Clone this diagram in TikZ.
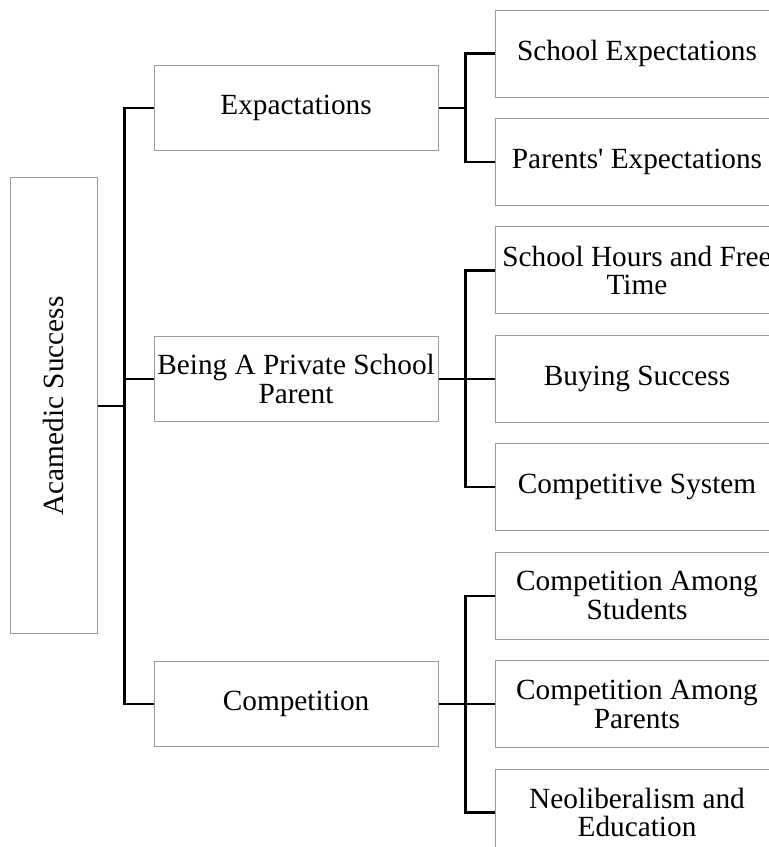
\documentclass[tikz,border=0pt]{standalone}
\usepackage{fontspec}
\setmainfont{Liberation Serif}
\usetikzlibrary{positioning,calc}
\definecolor{boxgray}{HTML}{9A9A9A}

\begin{document}
\begin{tikzpicture}[
    every node/.style={font=\fontsize{25}{24.5}\selectfont},
    rootbox/.style={
        draw=boxgray, line width=0.8pt,
        minimum width=2.61cm, minimum height=13.68cm, inner sep=0pt
    },
    themebox/.style={
        draw=boxgray, line width=0.8pt, align=center,
        minimum width=8.52cm, minimum height=2.55cm, inner xsep=0pt
    },
    leafbox/.style={
        draw=boxgray, line width=0.8pt, align=center,
        minimum width=8.52cm, minimum height=2.61cm, inner xsep=0pt
    },
    link/.style={line width=2pt, color=black},
]
\useasboundingbox (0,0) rectangle (23.04,-25.41);

% === Right column: sub-themes ===
\node[leafbox] (schoolexp) at (19.11,-1.605) {School Expectations};
\node[leafbox, below=0.615cm of schoolexp] (parentexp) {Parents\textquotesingle{} Expectations};
\node[leafbox, below=0.615cm of parentexp] (hours) {School Hours and Free\\Time};
\node[leafbox, below=0.615cm of hours] (buying) {Buying Success};
\node[leafbox, below=0.615cm of buying] (compsys) {Competitive System};
\node[leafbox, below=0.615cm of compsys] (amongstud) {Competition Among\\Students};
\node[leafbox, below=0.615cm of amongstud] (amongpar) {Competition Among\\Parents};
\node[leafbox, below=0.615cm of amongpar] (neolib) {Neoliberalism and\\Education};

% === Middle column: themes ===
\path (schoolexp.west) -- (parentexp.west) coordinate[midway] (expmid);
\node[themebox, left=1.68cm of expmid] (expect) {Expactations};
\node[themebox, left=1.68cm of buying.west] (private) {Being A Private School\\Parent};
\node[themebox, left=1.68cm of amongpar.west] (compet) {Competition};

% === Left: main theme ===
\path (expect.west) -- (compet.west) coordinate[midway] (mainmid);
\node[rootbox, left=1.68cm of mainmid] (main) {};
\node[rotate=90] at (main.center) {Acamedic Success};

% Main trunk
\coordinate[right=0.81cm of main.east] (trunkA);
\draw[link] (main.east) -- (trunkA);
\draw[link] (expect.west) -| (trunkA) |- (compet.west);
\draw[link] (private.west) -- (private.west -| trunkA);

% Expectations branch
\coordinate[right=0.81cm of expect.east] (trunkB);
\draw[link] (expect.east) -- (trunkB);
\draw[link] (schoolexp.west) -| (trunkB) |- (parentexp.west);

% Private school branch
\coordinate[right=0.81cm of private.east] (trunkC);
\draw[link] (private.east) -- (trunkC);
\draw[link] (hours.west) -| (trunkC) |- (compsys.west);
\draw[link] (buying.west) -- (buying.west -| trunkC);

% Competition branch
\coordinate[right=0.81cm of compet.east] (trunkD);
\draw[link] (compet.east) -- (trunkD);
\draw[link] (amongstud.west) -| (trunkD) |- (neolib.west);
\draw[link] (amongpar.west) -- (amongpar.west -| trunkD);

\end{tikzpicture}
\end{document}
